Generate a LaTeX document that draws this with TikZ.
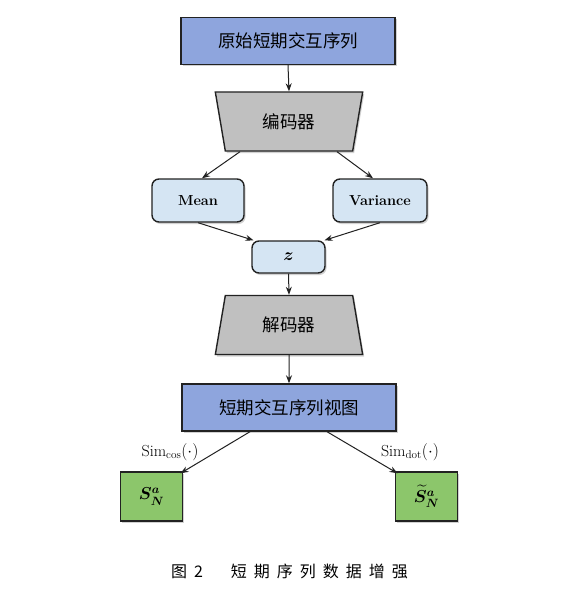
\documentclass[tikz,border=0pt]{standalone}
\usepackage{amsmath}
\usepackage{fontspec}
\newfontfamily\cjk{Noto Sans CJK SC}
\usetikzlibrary{arrows.meta,shapes.geometric,shadows,calc}
\definecolor{boxblue}{HTML}{8EA5DD}
\definecolor{boxgray}{HTML}{C0C0C0}
\definecolor{boxlight}{HTML}{D5E5F3}
\definecolor{boxgreen}{HTML}{8CC66B}
\definecolor{edge}{HTML}{222222}
\begin{document}
\begin{tikzpicture}[x=1pt,y=-1pt,
  shad/.style={drop shadow={shadow xshift=1.5pt,shadow yshift=-2pt,opacity=0.18,fill=black}},
  bluebox/.style={draw=edge,line width=1.4pt,fill=boxblue,minimum width=214pt,minimum height=47pt,inner sep=0pt,shad,font=\cjk\fontsize{17.5}{20}\selectfont},
  trap/.style={trapezium,trapezium stretches=true,trapezium left angle=75.7,trapezium right angle=75.7,draw=edge,line width=1.4pt,fill=boxgray,minimum width=148pt,minimum height=59pt,inner sep=0pt,shad,font=\cjk\fontsize{17.5}{20}\selectfont},
  roundbox/.style={draw=edge,line width=1.4pt,fill=boxlight,rounded corners=7pt,inner sep=0pt,shad,font=\fontsize{14.5}{16}\selectfont\bfseries},
  greenbox/.style={draw=edge,line width=1.4pt,fill=boxgreen,minimum width=62pt,minimum height=49pt,inner sep=0pt,shad,font=\fontsize{17}{19}\selectfont},
  arr/.style={draw=edge,line width=1pt,-{Stealth[length=8pt,width=6pt]}},
  lbl/.style={inner sep=0pt,font=\fontsize{16}{18}\selectfont}
]
\useasboundingbox (0,0) rectangle (573,591);
\fill[white] (0,0) rectangle (573,591);

\node[bluebox] (top) at (288,41) {原始短期交互序列};
\node[trap,shape border rotate=180] (enc) at (289,121.5) {编码器};
\node[roundbox,minimum width=92pt,minimum height=43pt] (mean) at (198,200.5) {Mean};
\node[roundbox,minimum width=94pt,minimum height=43pt] (var) at (380,200.5) {Variance};
\node[roundbox,minimum width=73pt,minimum height=32pt,font=\fontsize{16}{18}\selectfont] (z) at (288.5,257) {$\boldsymbol{z}$};
\node[trap] (dec) at (289,325) {解码器};
\node[bluebox] (view) at (289,407.5) {短期交互序列视图};
\node[greenbox] (sl) at (151.5,496.5) {$\boldsymbol{S_N^a}$};
\node[greenbox] (sr) at (426.5,496.5) {$\boldsymbol{\widetilde{S}_N^a}$};

\draw[arr] (top.south) -- (enc.north);
\draw[arr] ([xshift=-49pt]enc.south) -- ([xshift=4pt]mean.north);
\draw[arr] ([xshift=48pt]enc.south) -- ([xshift=-7pt]var.north);
\draw[arr] (mean.south) -- ([xshift=-35pt]z.north);
\draw[arr] (var.south) -- ([xshift=36pt]z.north);
\draw[arr] (z.south) -- (dec.north);
\draw[arr] (dec.south) -- (view.north);
\draw[arr] ([xshift=-39pt]view.south) -- ([xshift=29pt,yshift=-2pt]sl.north);
\draw[arr] ([xshift=38pt]view.south) -- ([xshift=-29pt,yshift=-2pt]sr.north);

\node[lbl] (lcos) at (170,452) {$\mathrm{Sim}_{\mathrm{cos}}(\cdot)$};
\node[lbl] (ldot) at (410,452) {$\mathrm{Sim}_{\mathrm{dot}}(\cdot)$};

\node[inner sep=0pt,font=\cjk\fontsize{16}{18}\selectfont] (cap) at (289.5,571)
  {图\hspace{7pt}2\hspace{28pt}短\hspace{7pt}期\hspace{7pt}序\hspace{7pt}列\hspace{7pt}数\hspace{7pt}据\hspace{7pt}增\hspace{7pt}强};
\end{tikzpicture}
\end{document}
